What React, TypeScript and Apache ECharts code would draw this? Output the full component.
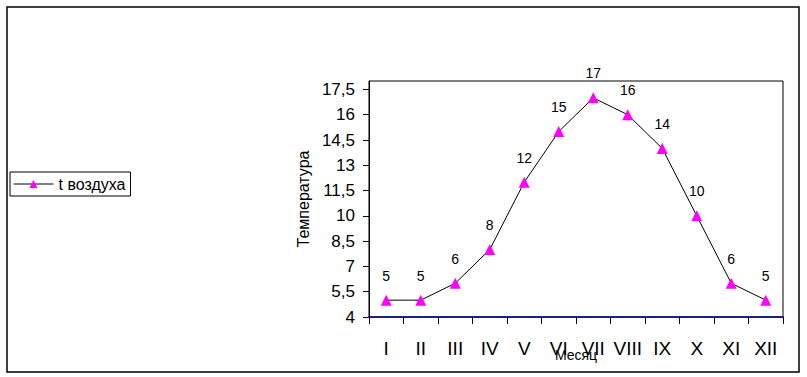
import React, { useEffect, useRef } from "react";
import * as echarts from "echarts";

const months = ["I", "II", "III", "IV", "V", "VI", "VII", "VIII", "IX", "X", "XI", "XII"];
const temps = [5, 5, 6, 8, 12, 15, 17, 16, 14, 10, 6, 5];
const yTicks = [4, 5.5, 7, 8.5, 10, 11.5, 13, 14.5, 16, 17.5];
const seriesName = "t воздуха";

const FONT = "'Liberation Sans', Arial, sans-serif";

export default function App() {
  const ref = useRef<HTMLDivElement>(null);
  useEffect(() => {
    document.body.style.margin = "0";
    const chart = echarts.init(ref.current!, null, { renderer: "svg" });
    chart.setOption({
      animation: false,
      backgroundColor: "#fff",
      textStyle: { fontFamily: FONT },
      graphic: [
        {
          type: "rect",
          shape: { x: 7, y: 7, width: 792, height: 365 },
          style: { fill: "none", stroke: "#000", lineWidth: 1.5 },
          z: -1,
        },
      ],
      legend: {
        left: 10,
        top: 172,
        orient: "vertical",
        padding: [4, 5, 4, 3],
        borderColor: "#000",
        borderWidth: 1,
        itemWidth: 40,
        itemHeight: 10,
        itemGap: 5,
        lineStyle: { width: 1, color: "#000" },
        textStyle: { fontSize: 16, color: "#000", fontFamily: FONT },
        data: [seriesName],
      },
      grid: {
        left: 369,
        top: 81,
        right: 24,
        bottom: 60,
        outerBoundsMode: "none",
        containLabel: false,
        show: true,
        borderColor: "#000",
        borderWidth: 1,
        backgroundColor: "#fff",
      },
      xAxis: {
        type: "category",
        data: months,
        boundaryGap: true,
        name: "Месяц",
        nameLocation: "middle",
        nameGap: 31,
        nameMoveOverlap: false,
        nameTextStyle: { fontSize: 14, color: "#000", fontFamily: FONT },
        axisLine: { lineStyle: { color: "#000080", width: 1.5 } },
        axisTick: { show: true, length: 7, interval: 0, lineStyle: { color: "#000" } },
        axisLabel: { fontSize: 19, color: "#000", margin: 22, interval: 0, fontFamily: FONT },
        splitLine: { show: false },
      },
      yAxis: {
        type: "value",
        min: 4,
        max: 18,
        name: "Температура",
        nameLocation: "middle",
        nameGap: 58,
        nameMoveOverlap: false,
        nameTextStyle: { fontSize: 16, color: "#000", fontFamily: FONT },
        axisLine: { show: true, lineStyle: { color: "#000", width: 1 } },
        axisTick: { show: true, length: 6, lineStyle: { color: "#000" }, customValues: yTicks },
        axisLabel: {
          fontSize: 17,
          color: "#000",
          margin: 14,
          fontFamily: FONT,
          customValues: yTicks,
          formatter: (v: number) => String(v).replace(".", ","),
        },
        splitLine: { show: false },
      },
      series: [
        {
          name: seriesName,
          type: "line",
          data: temps,
          symbol: "triangle",
          symbolSize: 11,
          itemStyle: { color: "#FF00FF" },
          lineStyle: { color: "#000", width: 1 },
          label: {
            show: true,
            position: "top",
            distance: 12,
            fontSize: 14,
            color: "#000",
            fontFamily: FONT,
          },
        },
      ],
    });
    return () => chart.dispose();
  }, []);
  return <div ref={ref} style={{ width: 807, height: 377 }} />;
}
